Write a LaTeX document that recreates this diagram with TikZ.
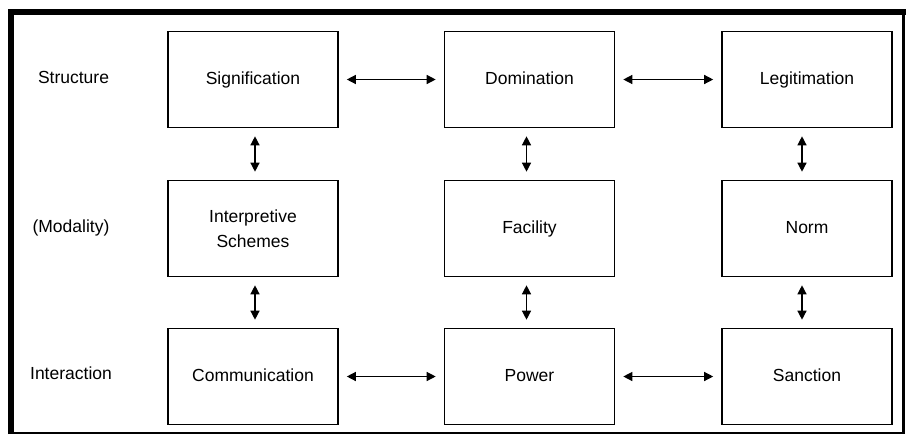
\documentclass[tikz,border=0pt]{standalone}
\usepackage{fontspec}
\setmainfont{Liberation Sans}
\usetikzlibrary{arrows.meta}
\begin{document}
\begin{tikzpicture}[x=1pt,y=-1pt,
  box/.style={draw=black, line width=1.6pt, minimum width=170pt, minimum height=96pt, inner sep=0pt, align=center, text height=12.5pt, text depth=3.5pt, font=\fontsize{17.5}{25}\selectfont},
  rowlabel/.style={inner sep=0pt, text height=12.5pt, text depth=3.5pt, font=\fontsize{17.5}{19}\selectfont},
  link/.style={line width=1.3pt, {Triangle[length=9pt,width=9pt]}-{Triangle[length=9pt,width=9pt]}, shorten >=8pt, shorten <=8pt}]
\useasboundingbox (0,0) rectangle (907,434);
% frame
\draw[line width=6pt] (11,434) -- (11,11.5) -- (906,11.5);
\draw[line width=3pt] (903.5,10) -- (903.5,433);
\draw[line width=2pt] (8,432.5) -- (905,432.5);
% row labels
\node[rowlabel] (l1) at (73.5,79) {Structure};
\node[rowlabel] (l2) at (71,228) {(Modality)};
\node[rowlabel] (l3) at (71,375) {Interaction};
% boxes
\node[box] (sig) at (253,79.5) {Signification};
\node[box] (dom) at (529.5,79.5) {Domination};
\node[box] (leg) at (807,79.5) {Legitimation};
\node[box, text height=, text depth=] (int) at (253,228.5) {Interpretive\\Schemes};
\node[box] (fac) at (529.5,228.5) {Facility};
\node[box] (nor) at (807,228.5) {Norm};
\node[box] (com) at (253,376.5) {Communication};
\node[box] (pow) at (529.5,376.5) {Power};
\node[box] (san) at (807,376.5) {Sanction};
% horizontal links
\draw[link] (sig.east) -- (dom.west);
\draw[link] (dom.east) -- (leg.west);
\draw[link] (com.east) -- (pow.west);
\draw[link] (pow.east) -- (san.west);
% vertical links
\draw[link] ([xshift=2pt]sig.south) -- ([xshift=2pt]int.north);
\draw[link] ([xshift=-3pt]dom.south) -- ([xshift=-3pt]fac.north);
\draw[link] ([xshift=-5pt]leg.south) -- ([xshift=-5pt]nor.north);
\draw[link] ([xshift=2pt]int.south) -- ([xshift=2pt]com.north);
\draw[link] ([xshift=-3pt]fac.south) -- ([xshift=-3pt]pow.north);
\draw[link] ([xshift=-5pt]nor.south) -- ([xshift=-5pt]san.north);
\end{tikzpicture}
\end{document}
